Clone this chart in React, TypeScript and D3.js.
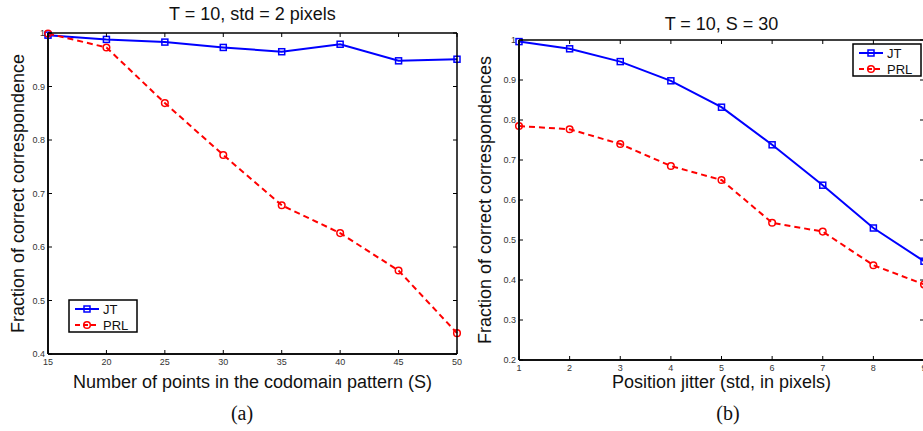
import React from 'react';
import * as d3 from 'd3';

// left panel: varying S
const sizeValues = [15, 20, 25, 30, 35, 40, 45, 50];
const sizeJT = [0.996, 0.988, 0.983, 0.973, 0.965, 0.979, 0.948, 0.951];
const sizePRL = [0.999, 0.973, 0.869, 0.772, 0.678, 0.626, 0.556, 0.439];
const sizeXTicks = [15, 20, 25, 30, 35, 40, 45, 50];
const sizeYTicks = [0.4, 0.5, 0.6, 0.7, 0.8, 0.9, 1];

// right panel: varying jitter
const jitterValues = [1, 2, 3, 4, 5, 6, 7, 8, 9];
const jitterJT = [0.996, 0.978, 0.946, 0.898, 0.832, 0.738, 0.637, 0.53, 0.447];
const jitterPRL = [0.785, 0.777, 0.74, 0.685, 0.65, 0.543, 0.521, 0.437, 0.389];
const jitterXTicks = [1, 2, 3, 4, 5, 6, 7, 8, 9];
const jitterYTicks = [0.2, 0.3, 0.4, 0.5, 0.6, 0.7, 0.8, 0.9, 1];

const seriesNames = ['JT', 'PRL'];

const BLUE = '#0000ff';
const RED = '#ff0000';
const SANS = 'Liberation Sans, Arial, Helvetica, sans-serif';

type Box = { x0: number; x1: number; y0: number; y1: number };

const Marker = ({ kind, x, y }: { kind: string; x: number; y: number }) =>
  kind === 'JT' ? (
    <rect x={x - 3} y={y - 3} width={6} height={6} fill="none" stroke={BLUE} strokeWidth={1.5} />
  ) : (
    <circle cx={x} cy={y} r={3.3} fill="none" stroke={RED} strokeWidth={1.5} />
  );

const Panel = ({ box, xs, jt, prl, xTicks, yTicks, yMin, title, titleY, xLabel, yLabel, yLabelX, legend, caption }: any) => {
  const x = d3.scaleLinear().domain([xs[0], xs[xs.length - 1]]).range([box.x0, box.x1]);
  const y = d3.scaleLinear().domain([yMin, 1]).range([box.y1, box.y0]);
  const line = d3
    .line<number>()
    .x((_, i) => x(xs[i]))
    .y(d => y(d));
  const cx = (box.x0 + box.x1) / 2;
  const cy = (box.y0 + box.y1) / 2;
  const tl = 4;

  return (
    <g>
      {/* data */}
      <path d={line(jt) || ''} fill="none" stroke={BLUE} strokeWidth={2} />
      <path d={line(prl) || ''} fill="none" stroke={RED} strokeWidth={2} strokeDasharray="6,4" />
      {jt.map((v: number, i: number) => <Marker key={'j' + i} kind="JT" x={x(xs[i])} y={y(v)} />)}
      {prl.map((v: number, i: number) => <Marker key={'p' + i} kind="PRL" x={x(xs[i])} y={y(v)} />)}

      {/* axes box */}
      <line x1={box.x0} x2={box.x1} y1={box.y0} y2={box.y0} stroke="#000" strokeWidth={1.5} />
      <line x1={box.x1} x2={box.x1} y1={box.y0} y2={box.y1} stroke="#000" strokeWidth={1.5} />
      <line x1={box.x0} x2={box.x1} y1={box.y1} y2={box.y1} stroke="#111" strokeWidth={2} />
      <line x1={box.x0} x2={box.x0} y1={box.y0} y2={box.y1} stroke="#111" strokeWidth={2} />

      {xTicks.map((t: number) => (
        <g key={'xt' + t}>
          <line x1={x(t)} x2={x(t)} y1={box.y1} y2={box.y1 - tl} stroke="#000" />
          <line x1={x(t)} x2={x(t)} y1={box.y0} y2={box.y0 + tl} stroke="#000" />
          <text x={x(t)} y={box.y1 + 11} textAnchor="middle" fontSize={9} fill="#333" fontFamily={SANS}>
            {t}
          </text>
        </g>
      ))}
      {yTicks.map((t: number) => (
        <g key={'yt' + t}>
          <line x1={box.x0} x2={box.x0 + tl} y1={y(t)} y2={y(t)} stroke="#000" />
          <line x1={box.x1} x2={box.x1 - tl} y1={y(t)} y2={y(t)} stroke="#000" />
          <text x={box.x0 - 3} y={y(t) + 3} textAnchor="end" fontSize={9} fill="#333" fontFamily={SANS}>
            {String(t)}
          </text>
        </g>
      ))}

      <text x={cx} y={titleY} textAnchor="middle" fontSize={18} fontFamily={SANS} fill="#111">
        {title}
      </text>
      <text x={cx} y={388} textAnchor="middle" fontSize={18} fontFamily={SANS} fill="#111">
        {xLabel}
      </text>
      <text
        transform={`translate(${yLabelX},${cy}) rotate(-90)`}
        textAnchor="middle"
        fontSize={18}
        fontFamily={SANS}
        fill="#111"
      >
        {yLabel}
      </text>
      <text x={caption.x} y={420} textAnchor="middle" fontSize={20} fontFamily="Liberation Serif, DejaVu Serif, serif" fill="#111">
        {caption.text}
      </text>

      {/* legend */}
      <g transform={`translate(${legend.x},${legend.y})`}>
        <rect x={0} y={0} width={legend.w} height={32} fill="#fff" stroke="#000" strokeWidth={1.5} />
        {seriesNames.map((name, i) => {
          const ly = 9 + i * 16;
          return (
            <g key={name}>
              <line
                x1={6}
                x2={30}
                y1={ly}
                y2={ly}
                stroke={i === 0 ? BLUE : RED}
                strokeWidth={2}
                strokeDasharray={i === 0 ? undefined : '5,3'}
              />
              <Marker kind={name} x={18} y={ly} />
              <text x={34} y={ly + 5} fontSize={13} fontFamily={SANS} fill="#111">
                {name}
              </text>
            </g>
          );
        })}
      </g>
    </g>
  );
};

export default function App() {
  const leftBox: Box = { x0: 48, x1: 457, y0: 33, y1: 354 };
  const rightBox: Box = { x0: 519, x1: 924, y0: 40, y1: 360 };
  return (
    <svg width={923} height={431} style={{ position: 'absolute', left: 0, top: 0, background: '#fff' }}>
      <rect width={923} height={431} fill="#fff" />
      <Panel
        box={leftBox}
        xs={sizeValues}
        jt={sizeJT}
        prl={sizePRL}
        xTicks={sizeXTicks}
        yTicks={sizeYTicks}
        yMin={0.4}
        title="T = 10, std = 2 pixels"
        titleY={20}
        xLabel="Number of points in the codomain pattern (S)"
        yLabel="Fraction of correct correspondence"
        yLabelX={24}
        legend={{ x: 69, y: 300, w: 68 }}
        caption={{ x: 242, text: '(a)' }}
      />
      <Panel
        box={rightBox}
        xs={jitterValues}
        jt={jitterJT}
        prl={jitterPRL}
        xTicks={jitterXTicks}
        yTicks={jitterYTicks}
        yMin={0.2}
        title="T = 10, S = 30"
        titleY={30}
        xLabel="Position jitter (std, in pixels)"
        yLabel="Fraction of correct correspondences"
        yLabelX={491}
        legend={{ x: 853, y: 44, w: 68 }}
        caption={{ x: 728, text: '(b)' }}
      />
    </svg>
  );
}
